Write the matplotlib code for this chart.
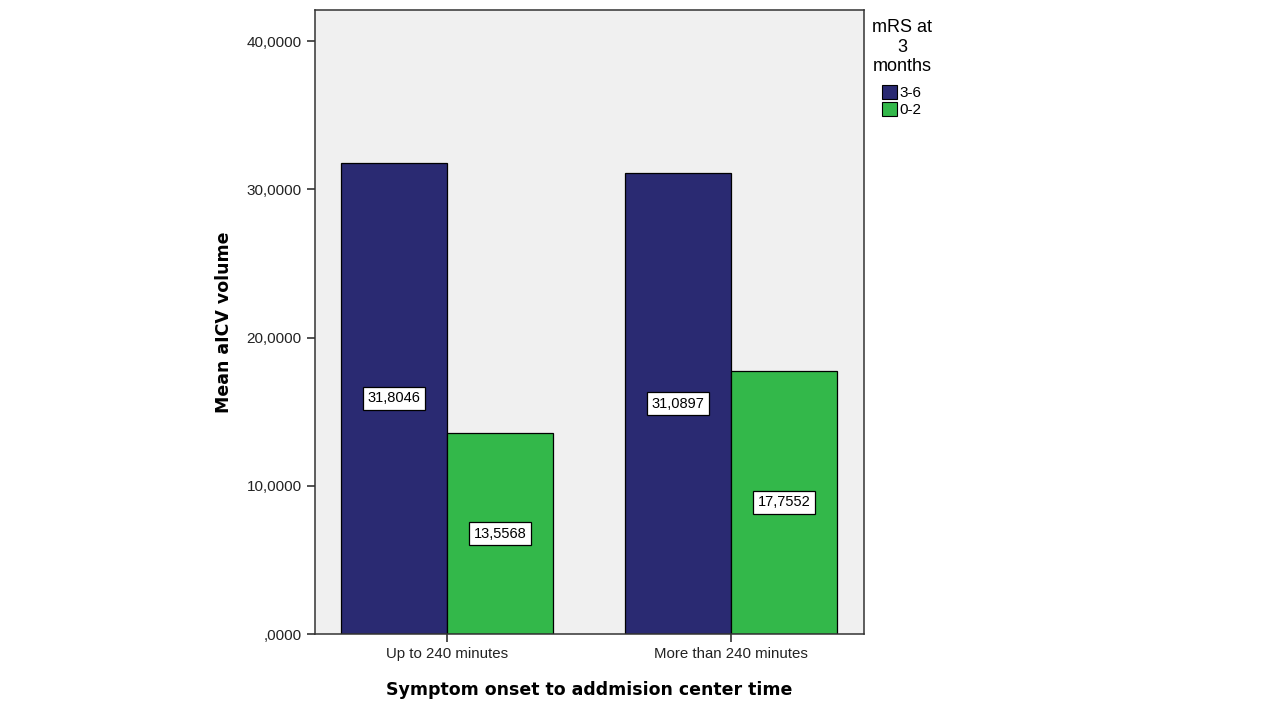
import numpy as np
import matplotlib.pyplot as plt
from matplotlib.patches import Patch

groups = ["Up to 240 minutes", "More than 240 minutes"]
mrs_3_6 = [31.8046, 31.0897]
mrs_0_2 = [13.5568, 17.7552]
series_names = ["3-6", "0-2"]
yticks = [0, 10, 20, 30, 40]

blue = "#2a2a72"
green = "#33b84a"

def fmt(v):
    s = f"{v:.4f}".replace(".", ",")
    return s[1:] if s.startswith("0,") else s

fig = plt.figure(figsize=(12.8, 7.2), dpi=100)
ax = fig.add_axes([315/1280, 1-634/720, (864-315)/1280, (634-10)/720])
ax.set_facecolor("#f0f0f0")

x = np.arange(len(groups))
w = 0.372
b1 = ax.bar(x - w/2, mrs_3_6, w, color=blue, edgecolor="black", linewidth=0.9, zorder=2)
b2 = ax.bar(x + w/2, mrs_0_2, w, color=green, edgecolor="black", linewidth=0.9, zorder=2)

for bars, vals in [(b1, mrs_3_6), (b2, mrs_0_2)]:
    for b, v in zip(bars, vals):
        ax.text(b.get_x() + b.get_width()/2, v/2, fmt(v), ha="center", va="center",
                fontsize=10.5, family="Liberation Sans", zorder=3,
                bbox=dict(boxstyle="square,pad=0.32", fc="white", ec="black", lw=0.9))

ax.set_xlim(-0.465, 1.468)
ax.set_ylim(0, 42.1)
ax.set_xticks(x)
ax.set_xticklabels(groups, fontsize=10.8, family="Liberation Sans", color="#222222")
ax.set_yticks(yticks)
ax.set_yticklabels([fmt(v) for v in yticks], fontsize=11, family="Liberation Sans", color="#222222")
ax.tick_params(direction="out", length=6, width=1.2, color="#333333")
for s in ax.spines.values():
    s.set_color("#333333")
    s.set_linewidth(1.1)

ax.set_ylabel("Mean aICV volume", fontsize=12.5, fontweight="bold", labelpad=10)
ax.set_xlabel("Symptom onset to addmision center time", fontsize=12.5, fontweight="bold", labelpad=14)

handles = [Patch(facecolor=blue, edgecolor="black", lw=0.8),
           Patch(facecolor=green, edgecolor="black", lw=0.8)]
leg = fig.legend(handles, series_names, title="mRS at\n3\nmonths", loc="upper left",
                 bbox_to_anchor=(872/1280, 1-19/720), frameon=False,
                 prop={"family": "Liberation Sans", "size": 11},
                 handlelength=1.0, handleheight=1.0, handletextpad=0.15,
                 labelspacing=0.15, borderaxespad=0, borderpad=0)
leg.get_title().set_fontfamily("Liberation Sans")
leg.get_title().set_fontsize(13)
leg.get_title().set_multialignment("center")
leg._legend_box.sep = 7

fig.savefig("out.png", dpi=100)
